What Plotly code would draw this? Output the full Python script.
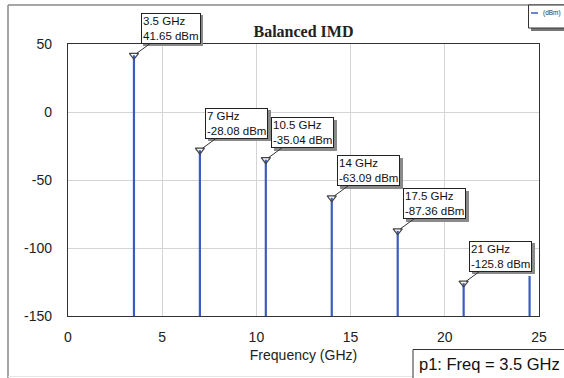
import plotly.graph_objects as go

# ---- data ----
freqs = [3.5, 7, 10.5, 14, 17.5, 21, 24.5]            # GHz
power = [41.65, -28.08, -35.04, -63.09, -87.36, -125.8, -120.6]  # dBm
marker_freqs = [3.5, 7, 10.5, 14, 17.5, 21]
marker_power = [41.65, -28.08, -35.04, -63.09, -87.36, -125.8]
x_ticks = [0, 5, 10, 15, 20, 25]
y_ticks = [-150, -100, -50, 0, 50]
title_text = "Balanced IMD"
x_title = "Frequency (GHz)"
legend_label = "(dBm)"
marker_readout = "p1: Freq = 3.5 GHz"

W, H = 564, 378
L, R, T, B = 68, 25, 44, 62
PW, PH = W - L - R, H - T - B

def px(x):  # pixel x -> paper
    return (x - L) / PW

def py(y):  # pixel y -> paper
    return (H - B - y) / PH

BLUE = "#3a5cc0"
FONT = "Liberation Sans, Arial, sans-serif"

# spike lines built from data
xs, ys = [], []
for f, p in zip(freqs, power):
    xs += [f, f, None]
    ys += [-150, p, None]

fig = go.Figure()
fig.add_trace(go.Scatter(x=xs, y=ys, mode="lines",
                         line=dict(color=BLUE, width=2.2),
                         hoverinfo="skip", showlegend=False))
fig.add_trace(go.Scatter(x=marker_freqs, y=marker_power, mode="markers",
                         marker=dict(symbol="triangle-down-open", size=8,
                                     color="#444", line=dict(width=1.2)),
                         showlegend=False, cliponaxis=False))

annotations = []
AX, AY = 37, -27
for f, p in zip(marker_freqs, marker_power):
    txt = f"{f:g} GHz<br>{p:g} dBm"
    # shadow
    annotations.append(dict(x=f, y=p, xref="x", yref="y", text=txt,
                            showarrow=False, xshift=AX + 2.5, yshift=-AY - 2.5,
                            align="left", font=dict(family=FONT, size=11.5, color="rgba(0,0,0,0)"),
                            bgcolor="#8a8a8a", borderpad=1, borderwidth=1,
                            bordercolor="#8a8a8a"))
    annotations.append(dict(x=f, y=p, xref="x", yref="y", text=txt,
                            showarrow=True, ax=AX, ay=AY, arrowhead=0,
                            arrowwidth=1, arrowcolor="#333", standoff=3,
                            align="left", font=dict(family=FONT, size=11.5, color="#111"),
                            bgcolor="white", borderpad=1, borderwidth=1,
                            bordercolor="#222"))

# legend text and readout
annotations.append(dict(x=px(541), y=py(13), xref="paper", yref="paper",
                        text=legend_label, showarrow=False, xanchor="left",
                        yanchor="middle", font=dict(family=FONT, size=6.5, color="#333")))
annotations.append(dict(x=px(417), y=py(364), xref="paper", yref="paper",
                        text=marker_readout, showarrow=False, xanchor="left",
                        yanchor="middle", font=dict(family=FONT, size=16.5, color="#111")))

shapes = [
    # outer window frame
    dict(type="line", xref="paper", yref="paper", x0=px(8), x1=px(8), y0=py(5), y1=py(380),
         line=dict(color="#888", width=1.5)),
    dict(type="line", xref="paper", yref="paper", x0=px(8), x1=px(566), y0=py(5), y1=py(5),
         line=dict(color="#888", width=1.5)),
    dict(type="line", xref="paper", yref="paper", x0=px(8), x1=px(566), y0=py(376.5), y1=py(376.5),
         line=dict(color="#e6e6e6", width=1)),
    # legend box with shadow
    dict(type="rect", xref="paper", yref="paper", x0=px(531), x1=px(570), y0=py(31), y1=py(8),
         line=dict(width=0), fillcolor="#777"),
    dict(type="rect", xref="paper", yref="paper", x0=px(528.5), x1=px(570), y0=py(28), y1=py(5),
         line=dict(color="#333", width=1), fillcolor="white"),
    dict(type="line", xref="paper", yref="paper", x0=px(531), x1=px(538), y0=py(13), y1=py(13),
         line=dict(color=BLUE, width=1.5)),
    # readout box
    dict(type="rect", xref="paper", yref="paper", x0=px(413), x1=px(570), y0=py(380), y1=py(349.5),
         line=dict(color="#333", width=1), fillcolor="white"),
]

fig.update_layout(
    width=W, height=H, autosize=False,
    margin=dict(l=L, r=R, t=T, b=B),
    paper_bgcolor="white", plot_bgcolor="white",
    showlegend=False,
    title=dict(text=f"<b>{title_text}</b>", x=px((L + W - R) / 2), xref="paper",
               xanchor="center", y=1 - 31 / H, yanchor="middle",
               font=dict(family="Liberation Serif, Times New Roman, serif", size=16, color="#222")),
    font=dict(family=FONT, size=14, color="#222"),
    annotations=annotations,
    shapes=shapes,
)

fig.update_xaxes(range=[0, 25], tickvals=x_ticks, ticktext=[str(v) for v in x_ticks],
                 showgrid=True, gridcolor="#d4d4d4", gridwidth=1,
                 zeroline=False, showline=True, linecolor="#333", linewidth=1.3, mirror=True,
                 ticks="outside", ticklen=8, tickcolor="rgba(0,0,0,0)",
                 tickfont=dict(family=FONT, size=14, color="#222"),
                 title=dict(text=x_title, standoff=6, font=dict(family=FONT, size=14, color="#222")))
fig.update_yaxes(range=[-150, 50], tickvals=y_ticks, ticktext=[str(v) for v in y_ticks],
                 showgrid=True, gridcolor="#d4d4d4", gridwidth=1,
                 zeroline=False, showline=True, linecolor="#333", linewidth=1.3, mirror=True,
                 ticks="outside", ticklen=12, tickcolor="rgba(0,0,0,0)",
                 tickfont=dict(family=FONT, size=14, color="#222"))

fig.write_html("out.html", config={"displayModeBar": False},
               post_script="document.body.style.margin='0';document.body.style.overflow='hidden';")
